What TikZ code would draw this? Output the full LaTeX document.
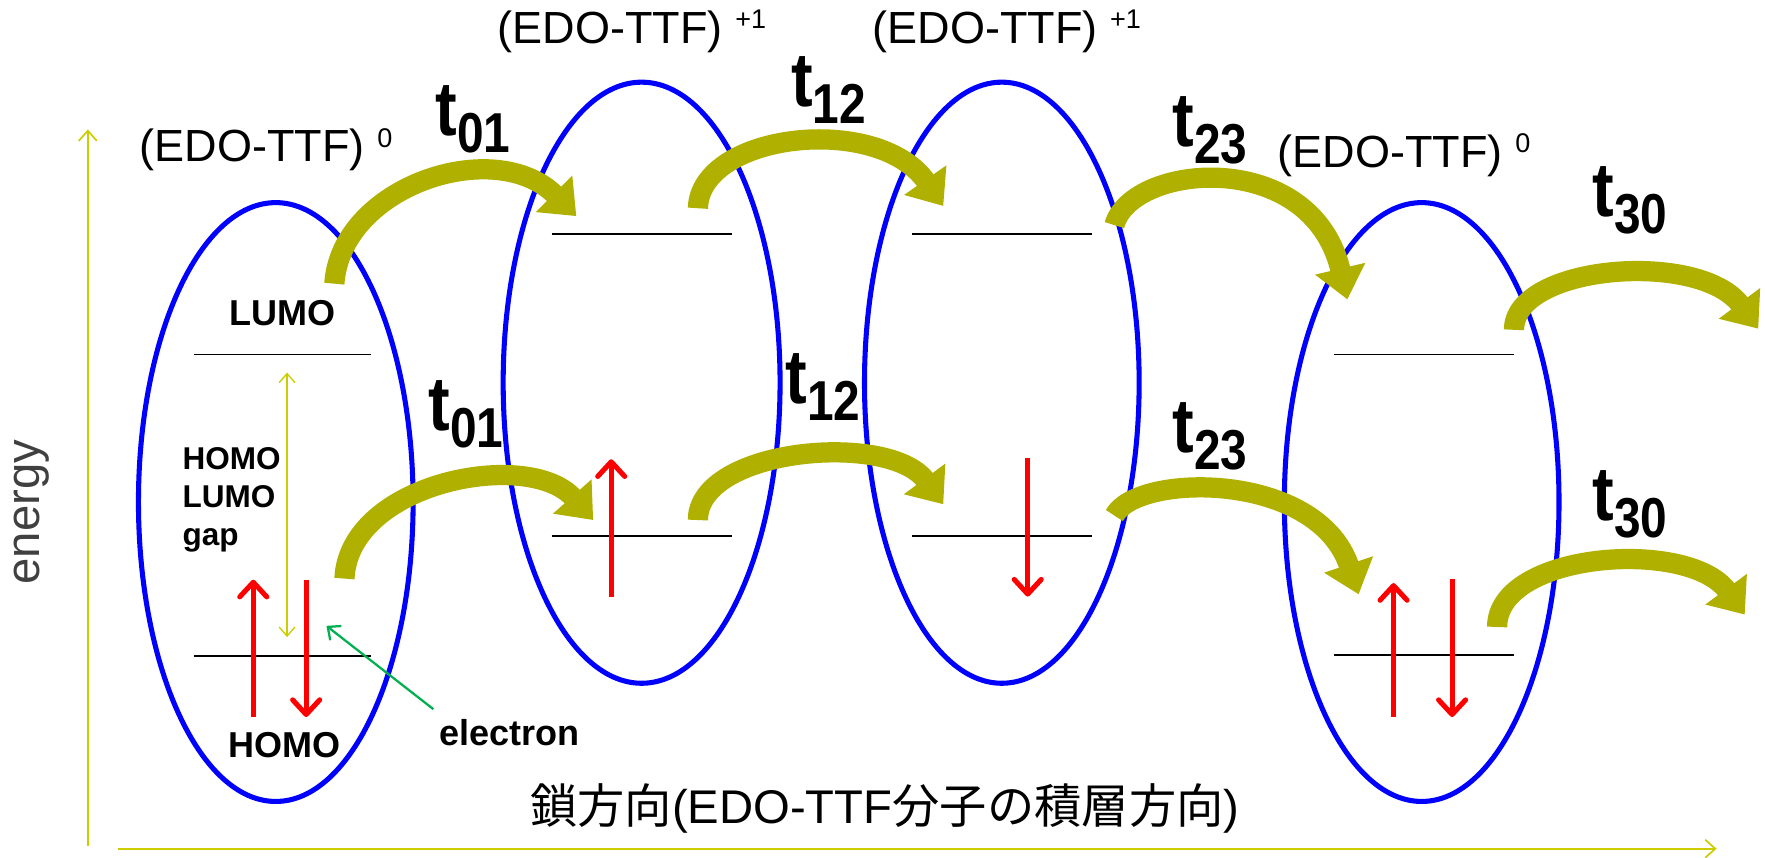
\documentclass[tikz,border=0pt]{standalone}
\usepackage{fontspec}
\setmainfont{Liberation Sans}
\newfontfamily\cjkfont{Noto Sans CJK JP}
\newfontfamily\narrowfont[FakeStretch=0.85]{Liberation Sans}
\usetikzlibrary{arrows.meta}
\definecolor{axisyel}{RGB}{204,204,0}
\definecolor{olivearr}{RGB}{176,176,0}
\definecolor{ellblue}{RGB}{0,0,255}
\definecolor{grn}{RGB}{0,176,80}
\definecolor{energygray}{RGB}{64,64,64}
\newcommand{\tsub}[1]{{\narrowfont\bfseries\fontsize{68}{68}\selectfont t\raisebox{-15pt}{\fontsize{50}{50}\selectfont #1}}}
\newcommand{\charge}[1]{\ \raisebox{13pt}{\fontsize{24}{24}\selectfont #1}}
\begin{document}
\begin{tikzpicture}[x=1pt,y=-1pt,
  ell/.style={draw=ellblue,line width=4.5pt},
  level/.style={draw=black,line width=1.5pt},
  axis/.style={draw=axisyel,line width=1.5pt,-{Straight Barb[length=9pt,width=16pt]}},
  gaparrow/.style={draw=axisyel,line width=1.2pt,{Straight Barb[length=8pt,width=14pt]}-{Straight Barb[length=8pt,width=14pt]}},
  spin/.style={draw=red,line width=4.5pt,-{Straight Barb[round,length=13pt,width=24pt]}},
  bigarrow/.style={draw=olivearr,line width=18pt,-{Triangle[length=28pt,width=44pt]}},
  molname/.style={inner sep=0pt,font=\fontsize{40}{40}\selectfont},
  tlab/.style={inner sep=0pt},
  bold/.style={inner sep=0pt,font=\bfseries\fontsize{32}{32}\selectfont}
]
\useasboundingbox (0,0) rectangle (1568,762);

% axes
\coordinate (vaxb) at (78,752);
\coordinate (vaxt) at (78,115);
\coordinate (haxl) at (105,754);
\coordinate (haxr) at (1525,754);
\draw[axis] (vaxb) -- (vaxt);
\draw[axis] (haxl) -- (haxr);
\node[rotate=90,inner sep=0pt,text=energygray,font=\fontsize{42}{42}\selectfont] (energy) at (28,455) {energy};
\node[inner sep=0pt,font=\fontsize{42}{42}\selectfont] (chain) at (786,718) {{\cjkfont 鎖方向}(EDO-TTF{\cjkfont 分子の積層方向})};

% ellipses
\draw[ell] (245,446) ellipse [x radius=122pt, y radius=266pt];
\draw[ell] (570,340) ellipse [x radius=123pt, y radius=267pt];
\draw[ell] (890,340) ellipse [x radius=122pt, y radius=267pt];
\draw[ell] (1263,446) ellipse [x radius=122pt, y radius=266pt];

% levels
\draw[level] (172,315) -- (330,315);
\draw[level] (172,583) -- (330,583);
\draw[level] (490,208) -- (650,208);
\draw[level] (490,476) -- (650,476);
\draw[level] (810,208) -- (970,208);
\draw[level] (810,476) -- (970,476);
\draw[level] (1185,315) -- (1345,315);
\draw[level] (1185,582) -- (1345,582);

% molecule names
\node[molname,anchor=west] (m0) at (124,133) {(EDO-TTF)\charge{0}};
\node[molname,anchor=west] (m1) at (442,28) {(EDO-TTF)\charge{+1}};
\node[molname,anchor=west] (m2) at (775,28) {(EDO-TTF)\charge{+1}};
\node[molname,anchor=west] (m3) at (1135,138) {(EDO-TTF)\charge{0}};

% labels
\node[bold] (lumo) at (251,278) {LUMO};
\node[bold] (homo) at (253,662) {HOMO};
\node[inner sep=0pt,anchor=west,align=left,font=\bfseries\fontsize{28}{34}\selectfont] (gap) at (162,444) {HOMO\\LUMO\\gap};
\node[bold] (electron) at (453,651) {electron};

% gap arrow
\coordinate (gapt) at (255,331);
\coordinate (gapb) at (255,566);
\draw[gaparrow] (gapb) -- (gapt);

% electron pointer
\coordinate (eltail) at (385,630);
\coordinate (elhead) at (290,556);
\draw[draw=grn,line width=2pt,-{Straight Barb[length=9pt,width=16pt]}] (eltail) -- (elhead);

% spins
\draw[spin] (225,637) -- (225,515);
\draw[spin] (272,515) -- (272,637);
\draw[spin] (543,530) -- (543,408);
\draw[spin] (913,407) -- (913,530);
\draw[spin] (1238,637) -- (1238,518);
\draw[spin] (1290,514) -- (1290,637);

% hopping arrows (upper row)
\draw[bigarrow] (297,252) .. controls (303,165) and (440,120) .. (512,192);
\draw[bigarrow] (620,185) .. controls (622,118) and (780,100) .. (838,183);
\draw[bigarrow] (990,200) .. controls (1005,145) and (1165,130) .. (1197,266);
\draw[bigarrow] (1345,293) .. controls (1345,235) and (1510,222) .. (1562,292);
% hopping arrows (lower row)
\draw[bigarrow] (306,514) .. controls (310,428) and (470,398) .. (527,462);
\draw[bigarrow] (620,462) .. controls (620,398) and (790,383) .. (838,448);
\draw[bigarrow] (990,458) .. controls (1010,420) and (1170,418) .. (1207,528);
\draw[bigarrow] (1330,557) .. controls (1330,490) and (1500,478) .. (1550,546);

% t labels
\node[tlab] (t01a) at (420,106) {\tsub{01}};
\node[tlab] (t12a) at (736,80) {\tsub{12}};
\node[tlab] (t23a) at (1075,116) {\tsub{23}};
\node[tlab] (t30a) at (1448,178) {\tsub{30}};
\node[tlab] (t01b) at (414,368) {\tsub{01}};
\node[tlab] (t12b) at (731,344) {\tsub{12}};
\node[tlab] (t23b) at (1075,388) {\tsub{23}};
\node[tlab] (t30b) at (1448,448) {\tsub{30}};
\end{tikzpicture}
\end{document}
